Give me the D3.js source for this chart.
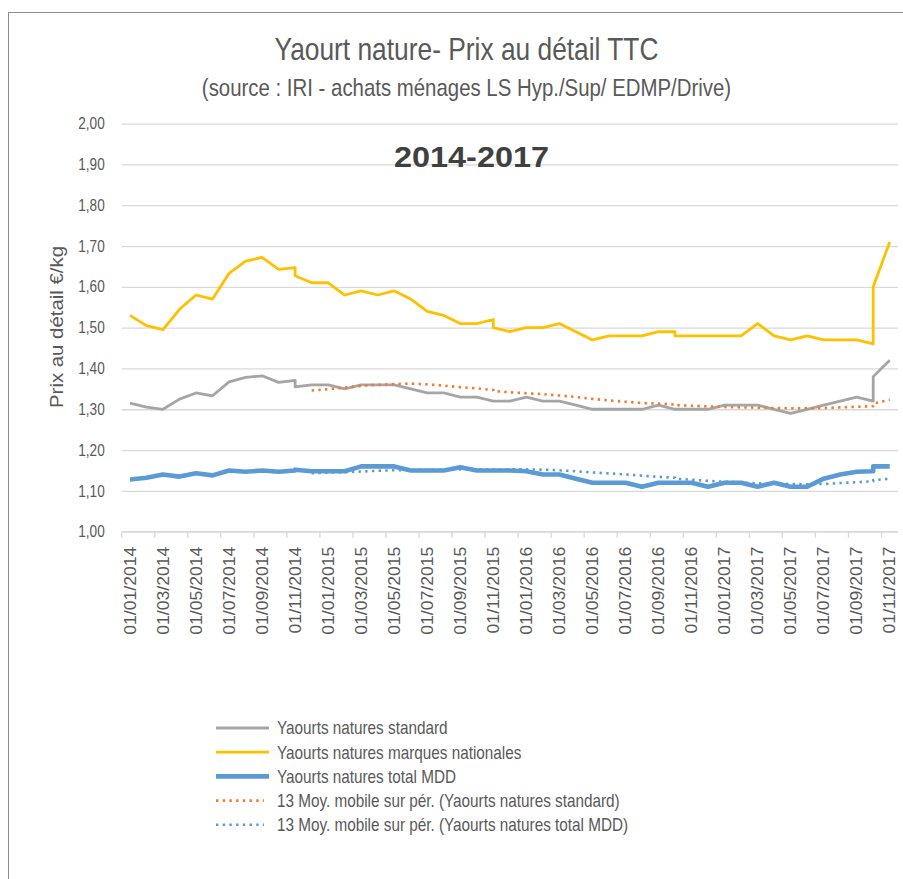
<!DOCTYPE html>
<html>
<head>
<meta charset="utf-8">
<script src="https://cdn.jsdelivr.net/npm/d3@7"></script>
<style>
  body { margin: 0; background: #fff; }
  svg { display: block; font-family: "Liberation Sans", Arial, sans-serif; }
</style>
</head>
<body>
<svg id="chart" width="903" height="879"></svg>
<script>
// 4-week reporting periods (13 per year), Jan 2014 - Nov 2017
const periodDates = [
  "2014-01-26","2014-02-23","2014-03-23","2014-04-20","2014-05-18","2014-06-15","2014-07-13",
  "2014-08-10","2014-09-07","2014-10-05","2014-11-02","2014-11-30","2014-12-28",
  "2015-01-25","2015-02-22","2015-03-22","2015-04-19","2015-05-17","2015-06-14","2015-07-12",
  "2015-08-09","2015-09-06","2015-10-04","2015-11-01","2015-11-29","2015-12-27",
  "2016-01-24","2016-02-21","2016-03-20","2016-04-17","2016-05-15","2016-06-12","2016-07-10",
  "2016-08-07","2016-09-04","2016-10-02","2016-10-30","2016-11-27","2016-12-25",
  "2017-01-22","2017-02-19","2017-03-19","2017-04-16","2017-05-14","2017-06-11","2017-07-09",
  "2017-08-06","2017-09-03","2017-10-01","2017-10-29","2017-11-26"
];

// Prix au détail €/kg
const standard = [
  1.315, 1.305, 1.300, 1.325, 1.340, 1.333, 1.367, 1.378, 1.382, 1.366, 1.371, 1.355, 1.360,
  1.360, 1.350, 1.360, 1.360, 1.360, 1.350, 1.340, 1.340, 1.330, 1.330, 1.320, 1.320, 1.320,
  1.330, 1.320, 1.320, 1.310, 1.300, 1.300, 1.300, 1.300, 1.310, 1.300, 1.300, 1.300, 1.300,
  1.310, 1.310, 1.310, 1.300, 1.290, 1.300, 1.310, 1.320, 1.330, 1.320, 1.380, 1.420
];
const marquesNationales = [
  1.530, 1.505, 1.495, 1.545, 1.580, 1.570, 1.633, 1.663, 1.672, 1.643, 1.647, 1.627, 1.610,
  1.610, 1.580, 1.590, 1.580, 1.590, 1.570, 1.540, 1.530, 1.510, 1.510, 1.520, 1.500, 1.490,
  1.500, 1.500, 1.510, 1.490, 1.470, 1.480, 1.480, 1.480, 1.490, 1.490, 1.480, 1.480, 1.480,
  1.480, 1.480, 1.510, 1.480, 1.470, 1.480, 1.470, 1.470, 1.470, 1.460, 1.600, 1.710
];
const totalMDD = [
  1.128, 1.132, 1.140, 1.135, 1.143, 1.138, 1.150, 1.147, 1.150, 1.147, 1.150, 1.152, 1.148,
  1.148, 1.148, 1.160, 1.160, 1.160, 1.150, 1.150, 1.150, 1.158, 1.150, 1.150, 1.150, 1.150,
  1.148, 1.140, 1.140, 1.130, 1.120, 1.120, 1.120, 1.110, 1.120, 1.120, 1.120, 1.120, 1.110,
  1.120, 1.120, 1.110, 1.120, 1.110, 1.110, 1.130, 1.140, 1.147, 1.148, 1.160, 1.160
];

const yTicks = [1.0, 1.1, 1.2, 1.3, 1.4, 1.5, 1.6, 1.7, 1.8, 1.9, 2.0];
const movingPeriod = 13;

const titleText = "Yaourt nature- Prix au détail TTC";
const subtitleText = "(source : IRI - achats ménages LS Hyp./Sup/ EDMP/Drive)";
const periodText = "2014-2017";
const yAxisTitle = "Prix au détail €/kg";
const legendLabels = [
  "Yaourts natures standard",
  "Yaourts natures marques nationales",
  "Yaourts natures total MDD",
  "13 Moy. mobile sur pér. (Yaourts natures standard)",
  "13 Moy. mobile sur pér. (Yaourts natures total MDD)"
];

// ---- layout ----
const plot = { left: 121.7, right: 898, top: 123.6, bottom: 531.7 };
const textGrey = "#595959";
const gridGrey = "#D9D9D9";
const sxH = 0.85;   // horizontal condensing of upright text
const sxR = 0.9;    // condensing of glyph height for rotated text

const svg = d3.select("#chart");

// chart frame
svg.append("rect")
  .attr("x", 8.5).attr("y", 12.5).attr("width", 1000).attr("height", 1000)
  .attr("fill", "#fff").attr("stroke", "#8c8c8c").attr("stroke-width", 1);

// ---- scales ----
const parseDay = d3.timeParse("%Y-%m-%d");
const monthKey = d3.timeFormat("%Y-%m");
const parseMonth = d3.timeParse("%Y-%m");
const months = d3.timeMonth.range(new Date(2014, 0, 1), new Date(2017, 11, 1));
const x = d3.scaleBand()
  .domain(months.map(monthKey))
  .range([plot.left, plot.right])
  .paddingInner(0).paddingOuter(0);
const xPos = d => x(monthKey(parseDay(d))) + x.bandwidth() / 2;
const y = d3.scaleLinear().domain([1, 2]).range([plot.bottom, plot.top]);

// ---- gridlines ----
const grid = svg.append("g")
  .attr("transform", `translate(${plot.left},0)`)
  .call(d3.axisLeft(y).tickValues(yTicks).tickSize(-(plot.right - plot.left)).tickFormat(""));
grid.select(".domain").remove();
grid.selectAll("line").attr("stroke", gridGrey).attr("stroke-width", 1.3);

// ---- y axis labels ----
const yAxis = svg.append("g")
  .attr("transform", `translate(${plot.left},0)`)
  .call(d3.axisLeft(y).tickValues(yTicks).tickSize(0).tickFormat(d => d3.format(".2f")(d).replace(".", ",")));
yAxis.select(".domain").remove();
yAxis.selectAll("text")
  .attr("x", -17 / sxH)
  .attr("transform", `scale(${sxH},1)`)
  .attr("fill", textGrey)
  .style("font-size", "16px")
  .style("font-family", "Liberation Sans, Arial, sans-serif");

// ---- x axis ----
const labelKeys = x.domain().filter((k, i) => i % 2 === 0);
const fmtLabel = d3.timeFormat("%d/%m/%Y");
const xAxis = svg.append("g")
  .attr("transform", `translate(0,${plot.bottom})`)
  .call(d3.axisBottom(x).tickValues(labelKeys).tickSize(0).tickFormat(k => fmtLabel(parseMonth(k))));
xAxis.select(".domain").remove();
xAxis.selectAll("text")
  .attr("x", -15).attr("y", 0).attr("dy", "0.35em")
  .attr("text-anchor", "end")
  .attr("transform", `scale(${sxR},1) rotate(-90)`)
  .attr("fill", textGrey)
  .style("font-size", "17.6px")
  .style("font-family", "Liberation Sans, Arial, sans-serif");

svg.append("line")
  .attr("x1", plot.left).attr("x2", plot.right)
  .attr("y1", plot.bottom).attr("y2", plot.bottom)
  .attr("stroke", gridGrey).attr("stroke-width", 1.3);
svg.append("g").selectAll("line")
  .data(labelKeys)
  .join("line")
  .attr("x1", k => x(k)).attr("x2", k => x(k))
  .attr("y1", plot.bottom).attr("y2", plot.bottom + 6)
  .attr("stroke", gridGrey).attr("stroke-width", 1.3);

// ---- series ----
const line = d3.line()
  .defined(d => d.v != null)
  .x(d => xPos(d.date))
  .y(d => y(d.v));
const toPoints = vals => vals.map((v, i) => ({ date: periodDates[i], v }));
const movingAverage = vals => vals.map((v, i) =>
  i < movingPeriod - 1 ? null : d3.mean(vals.slice(i - movingPeriod + 1, i + 1)));

const series = [
  { values: standard, color: "#A5A5A5", width: 2.8, dash: null },
  { values: marquesNationales, color: "#FFC000", width: 2.8, dash: null },
  { values: totalMDD, color: "#5B9BD5", width: 4.6, dash: null },
  { values: movingAverage(standard), color: "#ED7D31", width: 2.6, dash: "2.4 4.3" },
  { values: movingAverage(totalMDD), color: "#5B9BD5", width: 2.6, dash: "2.4 4.3" }
];

svg.append("g").selectAll("path")
  .data(series)
  .join("path")
  .attr("d", s => line(toPoints(s.values)))
  .attr("fill", "none")
  .attr("stroke", s => s.color)
  .attr("stroke-width", s => s.width)
  .attr("stroke-dasharray", s => s.dash)
  .attr("stroke-linejoin", "round");

// ---- titles ----
svg.append("text")
  .attr("transform", `translate(466.5,60) scale(${sxH},1)`)
  .attr("text-anchor", "middle")
  .attr("fill", textGrey)
  .style("font-size", "31px")
  .text(titleText);
svg.append("text")
  .attr("transform", `translate(466.5,96) scale(${sxH},1)`)
  .attr("text-anchor", "middle")
  .attr("fill", textGrey)
  .style("font-size", "24px")
  .text(subtitleText);
svg.append("text")
  .attr("transform", `translate(471.5,167) scale(1.08,1)`)
  .attr("text-anchor", "middle")
  .attr("fill", "#404040")
  .style("font-size", "30px")
  .style("font-weight", "bold")
  .text(periodText);
svg.append("text")
  .attr("transform", `translate(57,327) scale(${sxR},1) rotate(-90)`)
  .attr("text-anchor", "middle")
  .attr("dy", "0.35em")
  .attr("fill", textGrey)
  .style("font-size", "20.4px")
  .text(yAxisTitle);

// ---- legend ----
const legend = svg.append("g").attr("transform", "translate(216,728)");
const rowGap = 24.2;
const items = legend.selectAll("g")
  .data(series.map((s, i) => ({ ...s, label: legendLabels[i] })))
  .join("g")
  .attr("transform", (d, i) => `translate(0,${i * rowGap})`);
items.append("line")
  .attr("x1", 0).attr("x2", d => d.dash ? 48 : 53)
  .attr("y1", 0).attr("y2", 0)
  .attr("stroke", d => d.color)
  .attr("stroke-width", d => d.width)
  .attr("stroke-dasharray", d => d.dash);
items.append("text")
  .attr("transform", `translate(61,0) scale(${sxH},1)`)
  .attr("dy", "0.36em")
  .attr("fill", textGrey)
  .style("font-size", "18px")
  .text(d => d.label);
</script>
</body>
</html>
